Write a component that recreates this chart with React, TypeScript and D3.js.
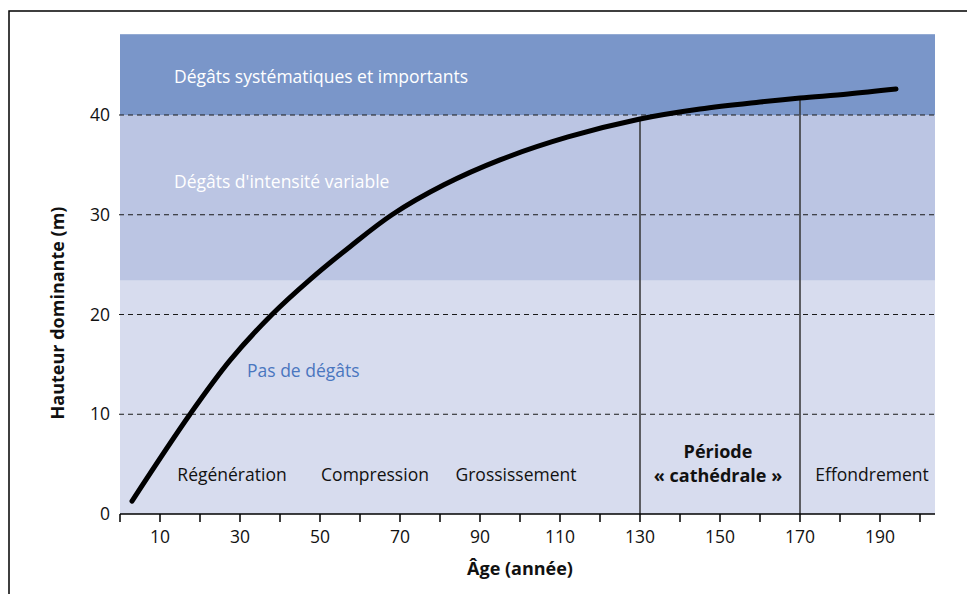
import React from "react";
import * as d3 from "d3";

const ages = [3, 17.5, 27.5, 38, 47.5, 57.5, 68, 81, 95, 112, 130, 145, 160, 170, 182, 194];
const heights = [1.3, 10, 15.4, 20, 23.5, 26.8, 30, 33, 35.5, 37.8, 39.6, 40.6, 41.3, 41.7, 42.1, 42.6];
const xTickValues = [0, 10, 20, 30, 40, 50, 60, 70, 80, 90, 100, 110, 120, 130, 140, 150, 160, 170, 180, 190, 200];
const xTickLabels = [10, 30, 50, 70, 90, 110, 130, 150, 170, 190];
const yGridValues = [10, 20, 30, 40];
const yTickLabels = [0, 10, 20, 30, 40];
const bands = [
  { from: 0, to: 23.4, color: "#d7dcee" },
  { from: 23.4, to: 40, color: "#bbc5e3" },
  { from: 40, to: 48.1, color: "#7a96c9" },
];
const bandLabels = [
  { text: "Dégâts systématiques et importants", age: 13.5, h: 43.2, color: "#ffffff" },
  { text: "Dégâts d'intensité variable", age: 13.5, h: 32.7, color: "#ffffff" },
  { text: "Pas de dégâts", age: 31.75, h: 13.75, color: "#4a76bf" },
];
const phaseLabels = [
  { lines: ["Régénération"], age: 28, bold: false },
  { lines: ["Compression"], age: 63.75, bold: false },
  { lines: ["Grossissement"], age: 99, bold: false },
  { lines: ["Période", "« cathédrale »"], age: 149.5, bold: true },
  { lines: ["Effondrement"], age: 188, bold: false },
];
const periodBoundaries = [130, 170];

const FONT = "'Open Sans', sans-serif";
const FS = 17.5;
const FSB = 18;

export default function App() {
  const x = d3.scaleLinear().domain([0, 203.75]).range([120, 935]);
  const y = d3.scaleLinear().domain([0, 40]).range([514, 115]);
  const line = d3
    .line<number>()
    .x((_, i) => x(ages[i]))
    .y((d) => y(d))
    .curve(d3.curveCatmullRom.alpha(0.5));
  const curveAt = (a: number) => {
    const i = d3.bisectLeft(ages, a);
    if (ages[i] === a) return heights[i];
    const t = (a - ages[i - 1]) / (ages[i] - ages[i - 1]);
    return heights[i - 1] + t * (heights[i] - heights[i - 1]);
  };
  return (
    <svg
      width={967}
      height={594}
      style={{ position: "absolute", left: 0, top: 0, background: "#fff" }}
      fontFamily={FONT}
    >
      <rect x={9} y={11} width={1000} height={700} fill="none" stroke="#000" strokeWidth={1.5} />
      {bands.map((b, i) => (
        <rect
          key={i}
          x={x(0)}
          y={y(b.to)}
          width={x(203.75) - x(0)}
          height={y(b.from) - y(b.to)}
          fill={b.color}
        />
      ))}
      {yGridValues.map((v) => (
        <line
          key={v}
          x1={x(0) - 1}
          x2={x(203.75)}
          y1={y(v)}
          y2={y(v)}
          stroke="#1a1a1a"
          strokeWidth={1.2}
          strokeDasharray="5,4"
        />
      ))}
      {bandLabels.map((b, i) => (
        <text key={i} x={x(b.age)} y={y(b.h)} fill={b.color} fontSize={FS}>
          {b.text}
        </text>
      ))}
      {periodBoundaries.map((a) => (
        <line
          key={a}
          x1={x(a)}
          x2={x(a)}
          y1={y(0)}
          y2={y(curveAt(a))}
          stroke="#333"
          strokeWidth={1.5}
        />
      ))}
      {phaseLabels.map((p, i) => (
        <text
          key={i}
          x={x(p.age)}
          y={p.lines.length > 1 ? 458 : 481}
          textAnchor="middle"
          fontSize={p.bold ? FSB : FS}
          fontWeight={p.bold ? "bold" : "normal"}
          fill="#111"
        >
          {p.lines.map((l, j) => (
            <tspan key={j} x={x(p.age)} dy={j === 0 ? 0 : 24}>
              {l}
            </tspan>
          ))}
        </text>
      ))}
      <path
        d={line(heights) || ""}
        fill="none"
        stroke="#000"
        strokeWidth={5}
        strokeLinecap="round"
        strokeLinejoin="round"
      />
      <line x1={x(0)} x2={x(203.75)} y1={y(0)} y2={y(0)} stroke="#000" strokeWidth={1.5} />
      {xTickValues.map((v) => (
        <line key={v} x1={x(v)} x2={x(v)} y1={y(0)} y2={y(0) + 8} stroke="#000" strokeWidth={1.5} />
      ))}
      {xTickLabels.map((v) => (
        <text key={v} x={x(v)} y={543} textAnchor="middle" fontSize={FS} fill="#111">
          {v}
        </text>
      ))}
      {yTickLabels.map((v) => (
        <text key={v} x={110} y={y(v) + 6} textAnchor="end" fontSize={FS} fill="#111">
          {v}
        </text>
      ))}
      <text x={520} y={575} textAnchor="middle" fontSize={FSB} fontWeight="bold" fill="#111">
        Âge (année)
      </text>
      <text
        transform={`translate(64,313) rotate(-90)`}
        textAnchor="middle"
        fontSize={FSB}
        fontWeight="bold"
        fill="#111"
      >
        Hauteur dominante (m)
      </text>
    </svg>
  );
}
